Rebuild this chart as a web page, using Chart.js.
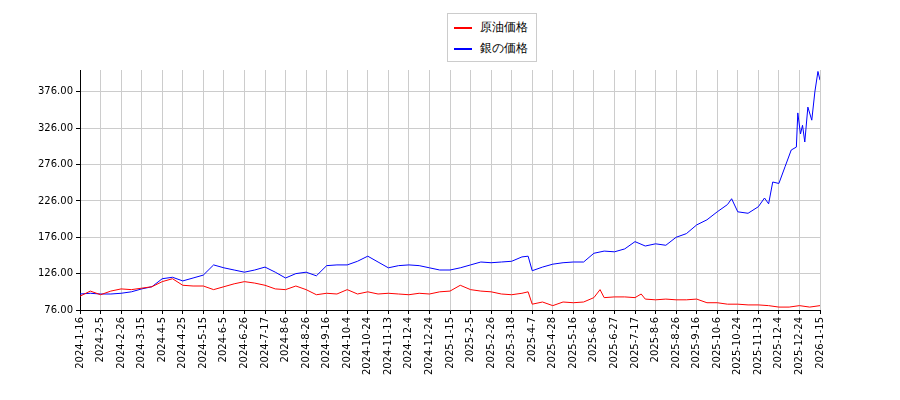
<!DOCTYPE html>
<html><head><meta charset="utf-8">
<script src="https://cdn.jsdelivr.net/npm/chart.js@4"></script>
<style>
body{margin:0;background:#fff;font-family:"DejaVu Sans",sans-serif}
#wrap{position:relative;width:900px;height:400px}
#legend{position:absolute;left:447px;top:13px;border:1px solid #ccc;padding:3px 8px 2px 6px;font-size:12px;line-height:21px;background:#fff}
#legend span{display:inline-block;width:18px;height:2px;vertical-align:middle;margin-right:8px}
</style></head><body>
<div id="wrap"><canvas id="myChart" width="900" height="400"></canvas>
<div id="legend"><div><span style="background:red"></span>原油価格</div><div><span style="background:blue"></span>銀の価格</div></div></div>
<script>
const dateLabels = ['2024-1-16','2024-2-5','2024-2-26','2024-3-15','2024-4-5','2024-4-25','2024-5-15','2024-6-5','2024-6-26','2024-7-17','2024-8-6','2024-8-26','2024-9-16','2024-10-4','2024-10-24','2024-11-13','2024-12-4','2024-12-24','2025-1-15','2025-2-5','2025-2-26','2025-3-18','2025-4-7','2025-4-28','2025-5-16','2025-6-6','2025-6-27','2025-7-17','2025-8-6','2025-8-26','2025-9-16','2025-10-6','2025-10-24','2025-11-13','2025-12-4','2025-12-24','2026-1-15']
const yTicks = [76,126,176,226,276,326,376]

const oilPos = [0,0.5,1,1.5,2,2.5,3,3.5,4,4.5,5,5.5,6,6.5,7,7.5,8,8.5,9,9.5,10,10.5,11,11.5,12,12.5,13,13.5,14,14.5,15,15.5,16,16.5,17,17.5,18,18.5,19,19.5,20,20.5,21,21.5,21.8,22,22.5,23,23.5,24,24.5,25,25.3,25.5,26,26.5,27,27.3,27.5,28,28.5,29,29.5,30,30.5,31,31.5,32,32.5,33,33.5,34,34.5,35,35.5,36]
const oilVal = [95,102,97,102,105,104,106,108,115,119,110,109,109,104,108,112,115,113,110,105,104,109,104,97,99,98,104,98,101,98,99,98,97,99,98,101,102,110,104,102,101,98,97,99,101,84,87,82,87,86,87,93,104,93,94,94,93,98,91,90,91,90,90,91,86,86,84,84,83,83,82,80,80,82,80,82]

const silverPos = [0,0.5,1,1.5,2,2.5,3,3.5,4,4.5,5,5.5,6,6.5,7,7.5,8,8.5,9,9.5,10,10.5,11,11.5,12,12.5,13,13.5,14,14.5,15,15.5,16,16.5,17,17.5,18,18.5,19,19.5,20,20.5,21,21.5,21.8,22,22.5,23,23.5,24,24.5,25,25.5,26,26.5,27,27.5,28,28.5,29,29.5,30,30.5,31,31.5,31.7,32,32.5,33,33.3,33.5,33.7,34,34.3,34.6,34.85,34.92,35.05,35.15,35.26,35.41,35.6,35.75,35.9,36]
const silverVal = [98,99,98,98,99,101,105,108,119,121,116,120,124,138,134,131,128,131,135,128,120,126,128,123,137,138,138,143,150,142,134,137,138,137,134,131,131,134,138,142,141,142,143,149,150,130,135,139,141,142,142,154,157,156,160,170,164,167,165,176,181,193,200,211,221,229,211,209,218,230,222,252,250,273,296,300,347,318,330,307,355,337,376,404,392]

const toPts = (xs, ys) => xs.map((x, i) => ({ x: x, y: ys[i] }))
const tickFont = { family: 'DejaVu Sans', size: 10 }

new Chart(document.getElementById('myChart'), {
  type: 'line',
  data: {
    datasets: [
      { label: '原油価格', data: toPts(oilPos, oilVal), borderColor: 'red', borderWidth: 1, pointRadius: 0, tension: 0 },
      { label: '銀の価格', data: toPts(silverPos, silverVal), borderColor: 'blue', borderWidth: 1, pointRadius: 0, tension: 0 }
    ]
  },
  options: {
    responsive: false,
    animation: false,
    layout: { padding: { top: 70, right: 80, left: 0, bottom: 0 } },
    plugins: { legend: { display: false }, tooltip: { enabled: false } },
    scales: {
      x: {
        type: 'linear', min: 0, max: 36,
        afterBuildTicks: ax => { ax.ticks = dateLabels.map((_, i) => ({ value: i })) },
        afterFit: ax => { ax.height = 90 },
        ticks: { font: tickFont, color: '#000', minRotation: 90, maxRotation: 90, autoSkip: false, callback: v => dateLabels[v] },
        grid: { color: '#ccc', tickColor: '#000', tickLength: 4 },
        border: { color: '#000' }
      },
      y: {
        min: 76, max: 406,
        afterBuildTicks: ax => { ax.ticks = yTicks.map(v => ({ value: v })) },
        afterFit: ax => { ax.width = 80 },
        ticks: { font: tickFont, color: '#000', callback: v => v.toFixed(2) },
        grid: { color: '#ccc', tickColor: '#000', tickLength: 4 },
        border: { color: '#000' }
      }
    }
  }
})
</script></body></html>
